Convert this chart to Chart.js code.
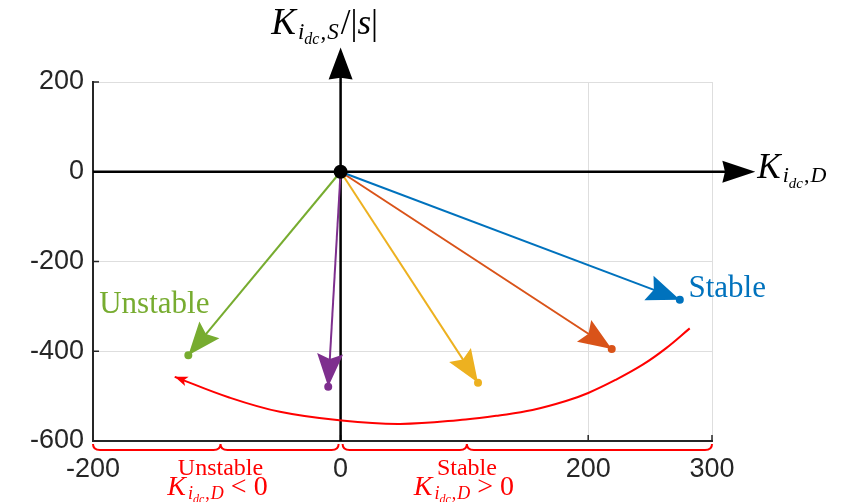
<!DOCTYPE html>
<html>
<head>
<meta charset="utf-8">
<style>
  html, body { margin: 0; padding: 0; background: #fff; }
  canvas { display: block; }
</style>
<script src="https://cdn.jsdelivr.net/npm/chart.js@4"></script>
</head>
<body>
<canvas id="chart" width="856" height="502"></canvas>
<script>
// tick labels
const xTicks = [-200, 0, 200, 300];
const yTicks = [200, 0, -200, -400, -600];

// arrow end points (all start at the origin)
const arrowColors = ['#0072BD', '#D95319', '#EDB120', '#7E2F8E', '#77AC30'];
const arrowEndX = [274, 219, 111, -10, -123];
const arrowEndY = [-285, -395, -470, -479, -409];

// red sweep curve, left to right; the arrow head sits on the first point
const sweepX = [-134, -90, -49, -1, 48, 101, 128, 155, 182, 200, 222, 244, 263, 282];
const sweepY = [-457, -503, -535, -554, -562, -552, -543, -531, -511, -493, -464, -430, -393, -349];

// region braces under the x axis
const braceFrom = [-200, 0];
const braceTo = [0, 300];
const braceCusp = [-97, 102];
const braceWords = ['Unstable', 'Stable'];
const braceSigns = ['<', '>'];

const axisTipX = 335;
const axisTipY = 277;

const SERIF = '"Liberation Serif", "DejaVu Serif", serif';
const SANS = '"Liberation Sans", Arial, sans-serif';

const drawHead = (ctx, tx, ty, fx, fy, len, half, notch, color) => {
  const dx = tx - fx;
  const dy = ty - fy;
  const d = Math.hypot(dx, dy);
  const ux = dx / d;
  const uy = dy / d;
  const bx = tx - ux * len;
  const by = ty - uy * len;
  ctx.fillStyle = color;
  ctx.beginPath();
  ctx.moveTo(tx, ty);
  ctx.lineTo(bx - uy * half, by + ux * half);
  ctx.lineTo(tx - ux * len * notch, ty - uy * len * notch);
  ctx.lineTo(bx + uy * half, by - ux * half);
  ctx.closePath();
  ctx.fill();
};

// draws K_{i_dc,X} style text piece by piece, returns end x
const drawMath = (ctx, parts, x, y, color, align) => {
  ctx.fillStyle = color;
  ctx.textBaseline = 'alphabetic';
  ctx.textAlign = 'left';
  let total = 0;
  parts.forEach((p) => {
    ctx.font = `${p.italic === false ? '' : 'italic '}${p.size}px ${SERIF}`;
    total += ctx.measureText(p.t).width + (p.gap || 0);
  });
  let cx = align === 'center' ? x - total / 2 : x;
  parts.forEach((p) => {
    ctx.font = `${p.italic === false ? '' : 'italic '}${p.size}px ${SERIF}`;
    ctx.fillText(p.t, cx, y + (p.dy || 0));
    cx += ctx.measureText(p.t).width + (p.gap || 0);
  });
  return cx;
};

const kParts = (big, mid, small, sub) => [
  { t: 'K', size: big, gap: 2 },
  { t: 'i', size: mid, dy: Math.round(mid * 0.2) },
  { t: 'dc', size: small, dy: Math.round(mid * 0.45), gap: 1 },
  { t: ',', size: mid, dy: Math.round(mid * 0.2), italic: false, gap: 1 },
  { t: sub, size: mid, dy: Math.round(mid * 0.2) },
];

const decorPlugin = {
  id: 'decor',
  beforeDatasetsDraw(chart) {
    const { ctx, chartArea: a, scales: { x, y } } = chart;
    const x0 = x.getPixelForValue(0);
    const y0 = y.getPixelForValue(0);
    ctx.save();
    // inward ticks
    ctx.strokeStyle = '#262626';
    ctx.lineWidth = 1.5;
    xTicks.forEach((v) => {
      const px = x.getPixelForValue(v);
      ctx.beginPath();
      ctx.moveTo(px, a.bottom);
      ctx.lineTo(px, a.bottom - 6);
      ctx.stroke();
    });
    yTicks.forEach((v) => {
      const py = y.getPixelForValue(v);
      ctx.beginPath();
      ctx.moveTo(a.left, py);
      ctx.lineTo(a.left + 6, py);
      ctx.stroke();
    });
    // black axes with arrows
    ctx.strokeStyle = '#000';
    ctx.lineWidth = 2.5;
    const tipX = x.getPixelForValue(axisTipX);
    const tipY = y.getPixelForValue(axisTipY);
    ctx.beginPath();
    ctx.moveTo(a.left, y0);
    ctx.lineTo(tipX - 20, y0);
    ctx.moveTo(x0, a.bottom);
    ctx.lineTo(x0, tipY + 20);
    ctx.stroke();
    drawHead(ctx, tipX, y0, a.left, y0, 33, 11, 0.92, '#000');
    drawHead(ctx, x0, tipY, x0, a.bottom, 32, 12, 0.95, '#000');
    ctx.restore();
  },
  afterDatasetsDraw(chart) {
    const { ctx, chartArea: a, scales: { x, y } } = chart;
    const x0 = x.getPixelForValue(0);
    const y0 = y.getPixelForValue(0);
    ctx.save();

    // arrow heads
    arrowEndX.forEach((ex, i) => {
      const tx = x.getPixelForValue(ex);
      const ty = y.getPixelForValue(arrowEndY[i]);
      drawHead(ctx, tx, ty, x0, y0, 33, 13, 0.84, arrowColors[i]);
    });
    // sweep arrow head on the left end
    const sx = x.getPixelForValue(sweepX[0]);
    const sy = y.getPixelForValue(sweepY[0]);
    const px = x.getPixelForValue(sweepX[1]);
    const py = y.getPixelForValue(sweepY[1]);
    drawHead(ctx, sx, sy, px, py, 13, 5, 0.75, '#ff0000');

    // origin dot
    ctx.fillStyle = '#000';
    ctx.beginPath();
    ctx.arc(x0, y0, 7, 0, Math.PI * 2);
    ctx.fill();

    // Stable / Unstable labels
    ctx.textBaseline = 'middle';
    ctx.textAlign = 'left';
    ctx.font = `31px ${SERIF}`;
    ctx.fillStyle = arrowColors[0];
    ctx.fillText('Stable', x.getPixelForValue(281), y.getPixelForValue(-262));
    ctx.fillStyle = arrowColors[4];
    ctx.fillText('Unstable', x.getPixelForValue(-195), y.getPixelForValue(-297));

    // axis labels
    const topEnd = drawMath(ctx, kParts(37, 23, 16, 'S'), x.getPixelForValue(-56), y.getPixelForValue(308), '#000', 'left');
    drawMath(ctx, [{ t: '/|', size: 35, italic: false }, { t: 's', size: 35 }, { t: '|', size: 35, italic: false }], topEnd + 2, y.getPixelForValue(308), '#000', 'left');
    drawMath(ctx, kParts(35, 22, 15, 'D'), x.getPixelForValue(axisTipX) + 2, y0 + 6, '#000', 'left');

    // braces below the x axis
    ctx.strokeStyle = '#ff0000';
    ctx.lineWidth = 2;
    const by = a.bottom + 9;
    braceFrom.forEach((f, i) => {
      const x1 = x.getPixelForValue(f) + (f === 0 ? 2 : 0);
      const x2 = x.getPixelForValue(braceTo[i]) - (braceTo[i] === 0 ? 2 : 0);
      const m = x.getPixelForValue(braceCusp[i]);
      ctx.beginPath();
      ctx.moveTo(x1, by - 6);
      ctx.quadraticCurveTo(x1, by, x1 + 7, by);
      ctx.lineTo(m - 7, by);
      ctx.quadraticCurveTo(m, by, m, by - 6);
      ctx.quadraticCurveTo(m, by, m + 7, by);
      ctx.lineTo(x2 - 7, by);
      ctx.quadraticCurveTo(x2, by, x2, by - 6);
      ctx.stroke();

      ctx.fillStyle = '#ff0000';
      ctx.font = `24px ${SERIF}`;
      ctx.textAlign = 'center';
      ctx.textBaseline = 'alphabetic';
      ctx.fillText(braceWords[i], m, a.bottom + 34);
      const parts = kParts(28, 18, 12, 'D').concat([{ t: ` ${braceSigns[i]} 0`, size: 28, italic: false }]);
      drawMath(ctx, parts, m - 3, a.bottom + 54, '#ff0000', 'center');
    });
    ctx.restore();
  },
};

const datasets = [
  {
    data: [{ x: 0, y: 0 }],
    pointRadius: 0,
    showLine: false,
  },
];
arrowEndX.forEach((ex, i) => {
  datasets.push({
    data: [{ x: 0, y: 0 }, { x: ex, y: arrowEndY[i] }],
    showLine: true,
    borderColor: arrowColors[i],
    backgroundColor: arrowColors[i],
    borderWidth: 2,
    pointRadius: [0, 3],
    pointHoverRadius: 0,
  });
});
datasets.push({
  data: sweepX.map((v, i) => ({ x: v, y: sweepY[i] })),
  showLine: true,
  borderColor: '#ff0000',
  borderWidth: 2,
  pointRadius: 0,
  tension: 0.4,
});

new Chart(document.getElementById('chart'), {
  type: 'scatter',
  data: { datasets },
  options: {
    responsive: false,
    animation: false,
    events: [],
    layout: { padding: { left: 0, top: 82, right: 144, bottom: 0 } },
    plugins: { legend: { display: false }, tooltip: { enabled: false } },
    scales: {
      x: {
        type: 'linear',
        min: -200,
        max: 300,
        afterBuildTicks: (s) => { s.ticks = xTicks.map((v) => ({ value: v })); },
        afterFit: (s) => { s.height = 61; },
        grid: { color: '#dedede', lineWidth: 1, drawTicks: false },
        border: { display: true, color: '#262626', width: 2 },
        ticks: {
          color: '#262626',
          font: { family: SANS, size: 27 },
          padding: 12,
          maxRotation: 0,
          autoSkip: false,
        },
      },
      y: {
        type: 'linear',
        min: -600,
        max: 200,
        afterBuildTicks: (s) => { s.ticks = yTicks.map((v) => ({ value: v })); },
        afterFit: (s) => { s.width = 93; },
        grid: { color: '#dedede', lineWidth: 1, drawTicks: false },
        border: { display: true, color: '#262626', width: 2 },
        ticks: {
          color: '#262626',
          font: { family: SANS, size: 27 },
          padding: 9,
          autoSkip: false,
        },
      },
    },
  },
  plugins: [decorPlugin],
});
</script>
</body>
</html>
